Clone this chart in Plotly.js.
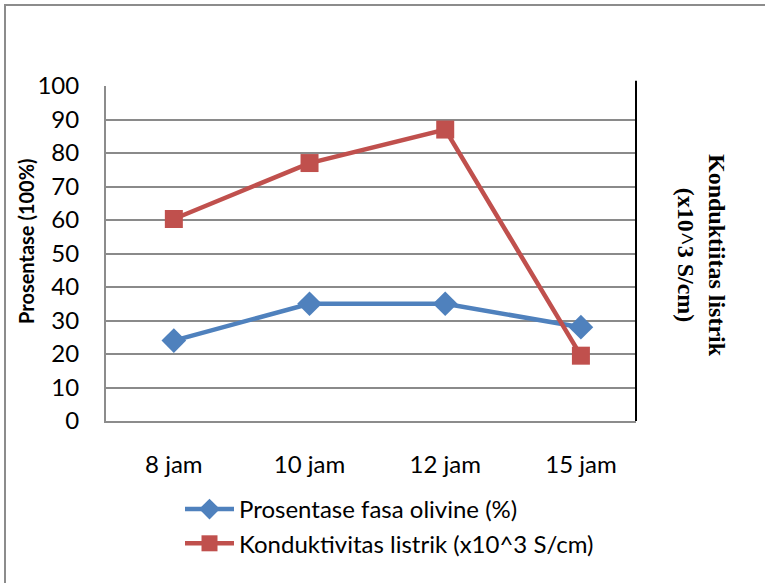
<!DOCTYPE html>
<html>
<head>
<meta charset="utf-8">
<script src="https://cdn.plot.ly/plotly-3.0.1.min.js"></script>
<style>
  html, body { margin: 0; padding: 0; background: #fff; }
  #wrap { position: relative; width: 765px; height: 583px; }
  #chart { position: absolute; left: 0; top: 0; width: 765px; height: 583px; }
  #frame { position: absolute; left: 4px; top: 4px; width: 800px; height: 620px;
           border: 2px solid #8c8c8c; box-sizing: border-box; pointer-events: none; }
</style>
</head>
<body>
<div id="wrap">
  <div id="chart"></div>
  <div id="frame"></div>
</div>
<script>
const categories = ["8 jam", "10 jam", "12 jam", "15 jam"];
const olivine = [24, 35, 35, 28];
const konduktivitas = [60.3, 77, 87, 19.5];
const seriesNames = ["Prosentase fasa olivine (%)", "Konduktivitas listrik (x10^3 S/cm)"];
const yTicks = [0, 10, 20, 30, 40, 50, 60, 70, 80, 90, 100];

const FONT = "Lato, 'Open Sans', sans-serif";

const traces = [
  {
    x: categories, y: olivine, name: seriesNames[0], type: "scatter", mode: "lines+markers",
    line: { color: "#4F81BD", width: 4.5 },
    marker: { symbol: "diamond", size: 19, color: "#4F81BD" }
  },
  {
    x: categories, y: konduktivitas, name: seriesNames[1], type: "scatter", mode: "lines+markers",
    line: { color: "#C0504D", width: 4.5 },
    marker: { symbol: "square", size: 18, color: "#C0504D" }
  }
];

const layout = {
  width: 765, height: 583,
  paper_bgcolor: "#fff", plot_bgcolor: "#fff",
  margin: { l: 106, r: 129, t: 86, b: 162, pad: 0, autoexpand: false },
  font: { family: FONT, size: 24, color: "#000" },
  showlegend: true,
  xaxis: {
    type: "category", range: [-0.5, 3.406], automargin: false,
    showgrid: false, zeroline: false,
    showline: true, linecolor: "#8c8c8c", linewidth: 2,
    ticks: "", ticklabelstandoff: 21, tickangle: 0,
    tickfont: { family: FONT, size: 24, color: "#000" }
  },
  yaxis: {
    range: [0, 100], tickvals: yTicks, ticktext: yTicks.map(String), automargin: false,
    showgrid: true, gridcolor: "#8a8a8a", gridwidth: 2,
    zeroline: false, showline: true, linecolor: "#8c8c8c", linewidth: 2,
    ticks: "", ticklabelstandoff: 20,
    tickfont: { family: FONT, size: 24, color: "#000" }
  },
  legend: {
    orientation: "v", xref: "container", yref: "container",
    x: 180 / 765, xanchor: "left", y: 1 - 487 / 583, yanchor: "top",
    itemwidth: 49, bgcolor: "rgba(0,0,0,0)",
    font: { family: FONT, size: 24, color: "#000" }
  },
  shapes: [
    { type: "line", xref: "paper", yref: "paper", x0: 1, x1: 1, y0: 0, y1: 1.016,
      line: { color: "#000", width: 2 } }
  ],
  annotations: [
    { text: "<b>Prosentase (100%)</b>", xref: "paper", yref: "paper",
      x: (26 - 106) / 530, y: (421 - 241) / 335, xanchor: "center", yanchor: "middle",
      textangle: -90, showarrow: false, font: { family: FONT, size: 20, color: "#000" } },
    { text: "<b>Konduktiitas listrik</b><br><b>(x10^3 S/cm)</b>", xref: "paper", yref: "paper",
      x: (702 - 106) / 530, y: (421 - 255) / 335, xanchor: "center", yanchor: "middle",
      textangle: 90, showarrow: false,
      font: { family: "'Liberation Serif', 'Times New Roman', serif", size: 24, color: "#000" } }
  ]
};

Plotly.newPlot("chart", traces, layout, { displayModeBar: false, staticPlot: true });
</script>
</body>
</html>
